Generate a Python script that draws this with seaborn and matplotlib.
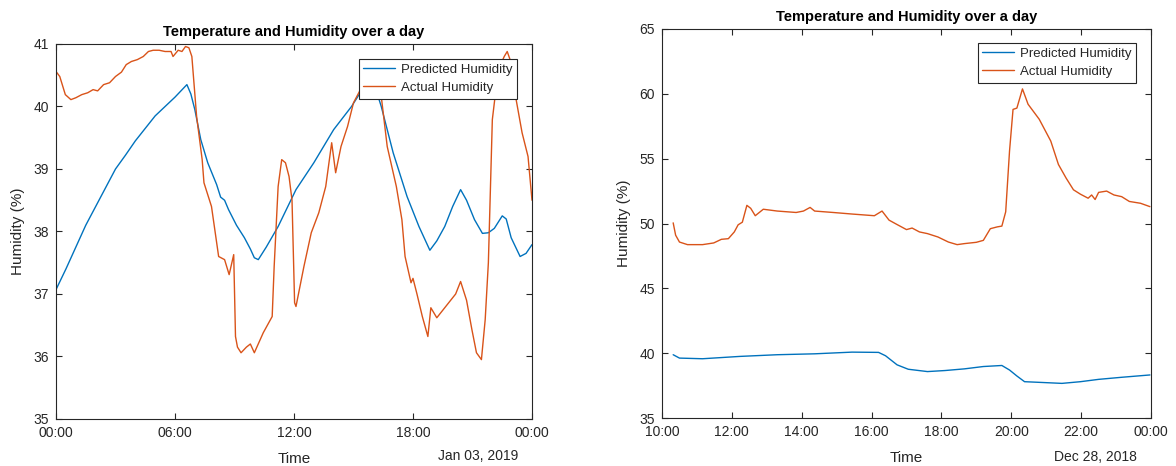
import pandas as pd
import matplotlib
matplotlib.use("Agg")
import matplotlib.pyplot as plt
import seaborn as sns

# --- left chart (Jan 03, 2019), hours since midnight ---
left_pred_t = [0, 0.5, 1, 1.5, 2, 2.5, 3, 3.5, 4, 4.5, 5, 5.5, 6, 6.3, 6.6, 6.8, 7.0, 7.3,
               7.65, 8.1, 8.3, 8.5, 8.7, 9.1, 9.5, 9.8, 10.0, 10.2, 10.6, 11.2, 12.1, 13.0,
               14.0, 14.9, 15.5, 16.0, 16.4, 17.0, 17.7, 18.3, 18.85, 19.2, 19.6, 20.0, 20.4,
               20.7, 21.1, 21.5, 21.8, 22.1, 22.5, 22.7, 22.95, 23.4, 23.7, 24.0]
left_pred_h = [37.07, 37.4, 37.75, 38.1, 38.4, 38.7, 39.0, 39.22, 39.45, 39.65, 39.85, 40.0,
               40.15, 40.25, 40.35, 40.2, 39.95, 39.47, 39.1, 38.75, 38.55, 38.5, 38.35, 38.1,
               37.9, 37.72, 37.58, 37.55, 37.75, 38.08, 38.67, 39.1, 39.63, 40.0, 40.3, 40.4,
               40.0, 39.26, 38.56, 38.08, 37.7, 37.85, 38.08, 38.4, 38.67, 38.5, 38.19, 37.97,
               37.98, 38.05, 38.25, 38.2, 37.9, 37.6, 37.65, 37.79]

left_act_t = [0, 0.19, 0.47, 0.75, 1.0, 1.3, 1.6, 1.87, 2.1, 2.4, 2.7, 3.0, 3.3, 3.54, 3.8,
              4.1, 4.4, 4.66, 4.9, 5.2, 5.5, 5.8, 5.9, 6.16, 6.35, 6.53, 6.7, 6.85, 7.09, 7.37,
              7.46, 7.84, 8.2, 8.5, 8.73, 8.96, 9.05, 9.15, 9.33, 9.6, 9.8, 10.0, 10.45, 10.9,
              11.0, 11.2, 11.38, 11.57, 11.75, 11.9, 12.03, 12.1, 12.5, 12.87, 13.25, 13.6,
              13.9, 14.1, 14.37, 14.7, 15.0, 15.4, 15.8, 16.1, 16.4, 16.7, 17.16, 17.44, 17.6,
              17.9, 18.0, 18.2, 18.47, 18.75, 18.9, 19.2, 19.6, 20.15, 20.4, 20.7, 20.97, 21.2,
              21.45, 21.64, 21.8, 22.0, 22.3, 22.6, 22.75, 22.95, 23.2, 23.5, 23.8, 24.0]
left_act_h = [40.56, 40.48, 40.19, 40.11, 40.14, 40.19, 40.22, 40.27, 40.25, 40.35, 40.38,
              40.48, 40.55, 40.67, 40.72, 40.75, 40.8, 40.88, 40.9, 40.9, 40.88, 40.88, 40.8,
              40.9, 40.88, 40.96, 40.94, 40.8, 39.84, 39.15, 38.78, 38.4, 37.6, 37.55, 37.31,
              37.63, 36.32, 36.15, 36.06, 36.15, 36.2, 36.06, 36.38, 36.64, 37.44, 38.72,
              39.15, 39.1, 38.88, 38.5, 36.86, 36.8, 37.44, 37.98, 38.3, 38.72, 39.42, 38.94,
              39.36, 39.68, 40.06, 40.3, 40.45, 40.4, 40.16, 39.36, 38.72, 38.19, 37.6, 37.18,
              37.25, 37.0, 36.64, 36.32, 36.78, 36.62, 36.78, 37.0, 37.2, 36.9, 36.43, 36.06,
              35.95, 36.59, 37.5, 39.79, 40.59, 40.8, 40.88, 40.7, 40.11, 39.58, 39.2, 38.5]

# --- right chart (Dec 28, 2018) ---
right_pred_t = [10.32, 10.5, 11.16, 12.23, 13.3, 14.37, 15.44, 16.2, 16.4, 16.73, 17.05, 17.6,
                18.1, 18.66, 19.2, 19.73, 19.95, 20.16, 20.38, 20.8, 21.45, 21.98, 22.5, 23.16,
                23.97]
right_pred_h = [39.88, 39.62, 39.57, 39.75, 39.88, 39.95, 40.08, 40.06, 39.8, 39.1, 38.76,
                38.58, 38.66, 38.79, 38.97, 39.05, 38.7, 38.24, 37.8, 37.75, 37.67, 37.8,
                37.98, 38.14, 38.32]

right_act_t = [10.32, 10.39, 10.5, 10.73, 11.16, 11.48, 11.7, 11.9, 12.07, 12.18, 12.3, 12.43,
               12.54, 12.67, 12.9, 13.3, 13.84, 14.05, 14.24, 14.37, 14.9, 15.44, 16.08, 16.3,
               16.5, 16.73, 17.0, 17.16, 17.37, 17.6, 17.9, 18.2, 18.45, 18.66, 19.0, 19.2,
               19.4, 19.6, 19.73, 19.84, 19.95, 20.05, 20.16, 20.32, 20.48, 20.8, 21.13, 21.35,
               21.57, 21.78, 21.98, 22.2, 22.3, 22.4, 22.5, 22.73, 22.94, 23.16, 23.38, 23.7,
               23.97]
right_act_h = [50.05, 49.1, 48.57, 48.37, 48.37, 48.5, 48.78, 48.83, 49.35, 49.9, 50.1, 51.4,
               51.17, 50.6, 51.1, 50.96, 50.85, 50.96, 51.24, 50.96, 50.85, 50.73, 50.6, 50.96,
               50.26, 49.92, 49.53, 49.65, 49.35, 49.22, 48.96, 48.57, 48.37, 48.45, 48.55,
               48.7, 49.6, 49.74, 49.8, 50.9, 55.6, 58.8, 58.9, 60.38, 59.2, 58.04, 56.36,
               54.55, 53.5, 52.6, 52.26, 51.95, 52.2, 51.85, 52.4, 52.5, 52.2, 52.07, 51.7,
               51.56, 51.3]

series_names = ["Predicted Humidity", "Actual Humidity"]
colors = ["#0072BD", "#D95319"]

left_ticks = [0, 6, 12, 18, 24]
left_ticklabels = ["00:00", "06:00", "12:00", "18:00", "00:00"]
right_ticks = [10, 12, 14, 16, 18, 20, 22, 24]
right_ticklabels = ["10:00", "12:00", "14:00", "16:00", "18:00", "20:00", "22:00", "00:00"]
left_date = "Jan 03, 2019"
right_date = "Dec 28, 2018"


def make_df(pt, ph, at, ah):
    a = pd.DataFrame({"t": pt, "h": ph, "series": series_names[0]})
    b = pd.DataFrame({"t": at, "h": ah, "series": series_names[1]})
    return pd.concat([a, b], ignore_index=True)


sns.set_theme(style="ticks")
plt.rcParams["font.family"] = ["Liberation Sans", "DejaVu Sans"]
ink = "#262626"

fig = plt.figure(figsize=(11.76, 4.66), dpi=100)
ax1 = fig.add_axes([56 / 1176, 1 - 419 / 466, 476 / 1176, 375 / 466])
ax2 = fig.add_axes([662 / 1176, 1 - 418 / 466, 489 / 1176, 389 / 466])

panels = [
    (ax1, make_df(left_pred_t, left_pred_h, left_act_t, left_act_h), (0, 24), (35, 41),
     list(range(35, 42)), left_ticks, left_ticklabels, left_date, (0.9685, 0.96)),
    (ax2, make_df(right_pred_t, right_pred_h, right_act_t, right_act_h), (10, 24), (35, 65),
     list(range(35, 66, 5)), right_ticks, right_ticklabels, right_date, (0.969, 0.964)),
]

for ax, df, xl, yl, yt, xt, xtl, date, anchor in panels:
    sns.lineplot(data=df, x="t", y="h", hue="series", palette=colors, ax=ax,
                 linewidth=1.0, sort=False, estimator=None)
    ax.set_xlim(*xl)
    ax.set_ylim(*yl)
    ax.set_xticks(xt)
    ax.set_xticklabels(xtl)
    ax.set_yticks(yt)
    ax.tick_params(direction="in", length=4, width=0.8, top=True, right=True,
                   labelsize=10, colors=ink, pad=5)
    for s in ax.spines.values():
        s.set_visible(True)
        s.set_color(ink)
        s.set_linewidth(0.8)
    ax.set_xlabel("Time", fontsize=11, color=ink, labelpad=9)
    ax.set_ylabel("Humidity (%)", fontsize=11, color=ink, labelpad=6)
    ax.set_title("Temperature and Humidity over a day", fontsize=10.5,
                 fontweight="bold", color="black", pad=6)
    ax.text(anchor[0] + 0.002, -0.1, date, transform=ax.transAxes, ha="right",
            va="center", fontsize=10, color=ink)
    leg = ax.legend(loc="upper right", bbox_to_anchor=anchor, borderaxespad=0,
                    fontsize=9.5, frameon=True, fancybox=False, framealpha=1,
                    handlelength=2.4, handletextpad=0.45, borderpad=0.35,
                    labelspacing=0.45)
    leg.get_frame().set_edgecolor(ink)
    leg.get_frame().set_linewidth(0.8)
    for line in leg.get_lines():
        line.set_linewidth(1.0)

fig.savefig("out.png", dpi=100)
